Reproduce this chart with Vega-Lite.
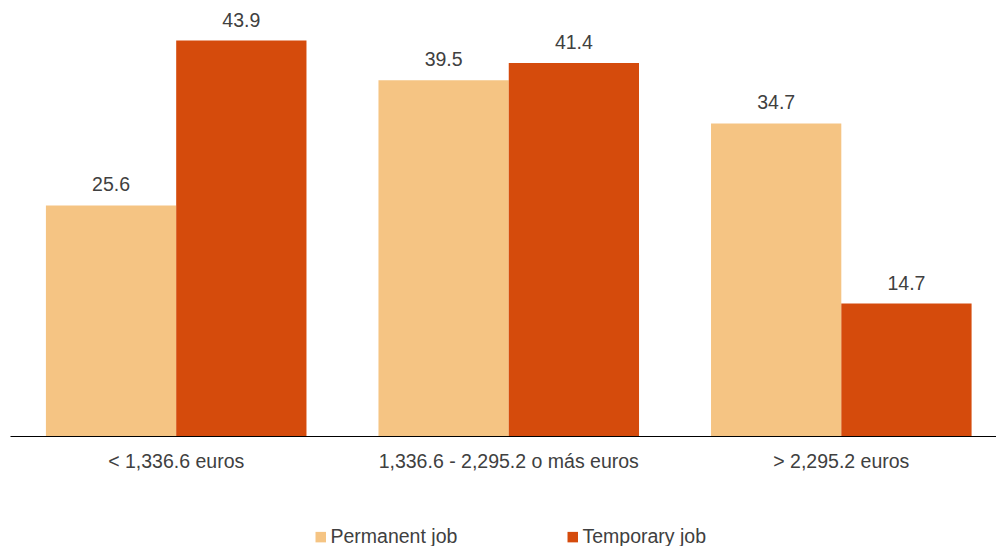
{
  "$schema": "https://vega.github.io/schema/vega-lite/v6.json",
  "autosize": {"type": "none"},
  "width": 997.5,
  "height": 436,
  "padding": {"left": 10, "top": 0, "right": 0, "bottom": 110},
  "background": "white",
  "config": {"view": {"stroke": null}, "font": "Liberation Sans"},
  "data": {"values": [
    {"grupo": "< 1,336.6 euros", "tipo": "Permanent job", "valor": 25.6},
    {"grupo": "< 1,336.6 euros", "tipo": "Temporary job", "valor": 43.9},
    {"grupo": "1,336.6 - 2,295.2 o más euros", "tipo": "Permanent job", "valor": 39.5},
    {"grupo": "1,336.6 - 2,295.2 o más euros", "tipo": "Temporary job", "valor": 41.4},
    {"grupo": "> 2,295.2 euros", "tipo": "Permanent job", "valor": 34.7},
    {"grupo": "> 2,295.2 euros", "tipo": "Temporary job", "valor": 14.7}
  ]},
  "encoding": {
    "x": {"field": "grupo", "type": "nominal", "sort": null,
      "scale": {"paddingInner": 0.2165, "paddingOuter": 0.108},
      "axis": {"title": null, "ticks": false, "labelAngle": 0, "labelFontSize": 19.5, "labelColor": "#404040",
        "labelBaseline": "alphabetic", "labelPadding": 31, "domainColor": "#000000", "domainWidth": 1, "grid": false, "labelLimit": 400}},
    "xOffset": {"field": "tipo", "type": "nominal", "sort": null, "scale": {"paddingInner": 0, "paddingOuter": 0}},
    "y": {"field": "valor", "type": "quantitative", "scale": {"domain": [0, 48.4], "nice": false}, "axis": null}
  },
  "layer": [
    {"mark": {"type": "bar"},
     "encoding": {
       "color": {"field": "tipo", "type": "nominal", "sort": null,
         "scale": {"domain": ["Permanent job", "Temporary job"], "range": ["#F5C483", "#D54B0C"]},
         "legend": {"title": null, "orient": "none", "direction": "horizontal", "legendX": 301, "legendY": 527,
           "symbolType": "square", "symbolSize": 110, "symbolStrokeWidth": 0, "labelFontSize": 19.5, "labelColor": "#404040",
           "labelOffset": 0, "columnPadding": 105, "padding": 0, "labelLimit": 300}}
     }},
    {"mark": {"type": "text", "baseline": "alphabetic", "dy": -14, "fontSize": 19.5, "color": "#404040"},
     "encoding": {"text": {"field": "valor", "type": "quantitative", "format": ".1f"}}}
  ]
}
